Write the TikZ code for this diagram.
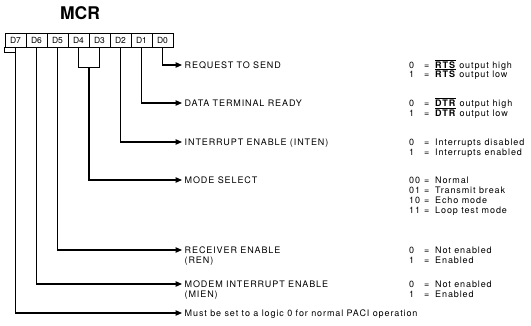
\documentclass[tikz,border=0pt]{standalone}
\usepackage{fontspec}
\setmainfont{TeX Gyre Heros}
\usetikzlibrary{arrows.meta,calc}
\newcommand\codeval[2]{\makebox[15pt][l]{#1}\makebox[11pt][l]{=}#2}
\newcommand\ovl[1]{$\overline{\mbox{\textbf{#1}}}$}
\newcommand\spaced{\addfontfeature{LetterSpace=10}}
\begin{document}
\begin{tikzpicture}[x=1pt,y=-1pt,
  cell/.style={draw,line width=0.9pt,minimum width=21pt,minimum height=14pt,inner sep=0pt,font=\fontsize{8.5}{9}\selectfont},
  wire/.style={line width=1.2pt},
  conn/.style={wire,-{Triangle[length=6.5pt,width=5.5pt]}},
  lbl/.style={anchor=west,inner xsep=2.5pt,inner ysep=0pt,text height=6.5pt,text depth=0pt,font=\fontsize{9}{10}\selectfont\spaced},
  val/.style={anchor=west,inner sep=0pt,text height=6.5pt,text depth=0pt,font=\fontsize{9}{10}\selectfont\spaced}]
\useasboundingbox (0,0) rectangle (531,326);
\node[font=\fontsize{17.5}{18}\selectfont\bfseries] (title) at (80,13.5) {MCR};
% register cells
\node[cell] (d7) at (15.5,40) {D7};
\node[cell] (d6) at (36.5,40) {D6};
\node[cell] (d5) at (57.5,40) {D5};
\node[cell] (d4) at (78.5,40) {D4};
\node[cell] (d3) at (99.5,40) {D3};
\node[cell] (d2) at (120.5,40) {D2};
\node[cell] (d1) at (141.5,40) {D1};
\node[cell] (d0) at (162.5,40) {D0};
% labels
\node[lbl] (rts) at (182,65) {REQUEST TO SEND};
\node[lbl] (dtr) at (182,103) {DATA TERMINAL READY};
\node[lbl] (inten) at (182,142) {INTERRUPT ENABLE (INTEN)};
\node[lbl] (mode) at (182,180) {MODE SELECT};
\node[lbl] (ren) at (182,250) {RECEIVER ENABLE};
\node[lbl] (ren2) at (182,260) {(REN)};
\node[lbl] (mien) at (182,284) {MODEM INTERRUPT ENABLE};
\node[lbl] (mien2) at (182,294) {(MIEN)};
\node[lbl] (must) at (182,313) {Must be set to a logic 0 for normal PACI operation};
% values
\node[val] (v1a) at (409,65) {\codeval{0}{\ovl{RTS} output high}};
\node[val] (v1b) at (409,74) {\codeval{1}{\ovl{RTS} output low}};
\node[val] (v2a) at (409,103) {\codeval{0}{\ovl{DTR} output high}};
\node[val] (v2b) at (409,113) {\codeval{1}{\ovl{DTR} output low}};
\node[val] (v3a) at (409,142) {\codeval{0}{Interrupts disabled}};
\node[val] (v3b) at (409,152) {\codeval{1}{Interrupts enabled}};
\node[val] (v4a) at (409,180) {\codeval{00}{Normal}};
\node[val] (v4b) at (409,190) {\codeval{01}{Transmit break}};
\node[val] (v4c) at (409,200) {\codeval{10}{Echo mode}};
\node[val] (v4d) at (409,210) {\codeval{11}{Loop test mode}};
\node[val] (v5a) at (409,250) {\codeval{0}{Not enabled}};
\node[val] (v5b) at (409,260) {\codeval{1}{Enabled}};
\node[val] (v6a) at (409,284) {\codeval{0}{Not enabled}};
\node[val] (v6b) at (409,294) {\codeval{1}{Enabled}};
% connectors
\draw[conn] (d0.south) |- (rts.west);
\draw[conn] (d1.south) |- (dtr.west);
\draw[conn] (d2.south) |- (inten.west);
\draw[wire] (d4.south) -- ++(0,20) -| (d3.south);
\coordinate (mj) at ($(d4.south)!0.5!(d3.south)+(0,20)$);
\draw[conn] (mj) |- (mode.west);
\draw[conn] (d5.south) |- (ren.west);
\draw[conn] (d6.south) |- (mien.west);
\draw[conn] (d7.south) |- (must.west);
\draw[wire] (d7.south west) -- ++(0,5) -- ($(d7.south)+(0,5)$);
\end{tikzpicture}
\end{document}
